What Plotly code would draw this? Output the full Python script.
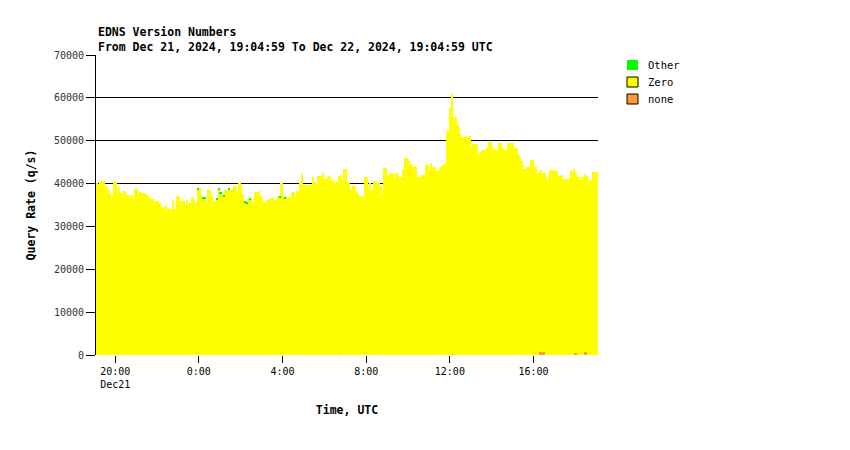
import pandas as pd
import plotly.graph_objects as go

# ---- data (5-minute bins starting Dec 21 2024 19:05 UTC) ----
start_time = "2024-12-21 19:05:00"
n_bins = 288
zero_rate = [
    40060, 39900, 40300, 40500, 40500, 39400, 39400, 38500, 37200, 37300, 40400, 40400,
    38000, 39200, 37700, 37700, 38200, 37300, 37200, 36900, 37300, 36300, 38700, 38700,
    37300, 38000, 37800, 37800, 37600, 37300, 36700, 36400, 36400, 35900, 35900, 35900,
    35300, 34500, 34300, 34500, 34800, 34100, 34100, 33700, 36200, 33900, 37100, 37100,
    35700, 35900, 35900, 34800, 36200, 35500, 35500, 36600, 35800, 35500, 38600, 38900,
    36800, 36500, 36500, 35800, 38500, 38500, 37000, 35600, 35800, 36300, 38600, 37600,
    37300, 37000, 38500, 38100, 38600, 37900, 38700, 39400, 39400, 37700, 40100, 39900,
    37600, 35600, 35200, 36400, 36100, 36400, 35500, 37900, 37900, 38100, 37000, 36700,
    35600, 35600, 36000, 36400, 36600, 36600, 36200, 36200, 37000, 36700, 40000, 36900,
    36500, 36800, 36800, 36800, 37900, 37900, 36800, 38200, 38200, 40100, 42100, 39600,
    39600, 39400, 39500, 39500, 41400, 40300, 40100, 41600, 41600, 41600, 42300, 41000,
    41000, 41600, 41400, 40500, 40500, 40100, 40400, 41700, 41700, 40500, 43400, 43400,
    40400, 40000, 38700, 39300, 39300, 38000, 37700, 37000, 37000, 36600, 41400, 41400,
    38700, 40000, 38500, 40400, 40400, 40400, 40000, 39400, 37600, 43600, 43600, 41900,
    41900, 42300, 42300, 41000, 42300, 41900, 41500, 41500, 43400, 46000, 46000, 45300,
    44400, 44200, 43800, 43800, 41400, 41400, 41400, 42000, 42000, 44300, 44300, 43200,
    44800, 43700, 43700, 42900, 42900, 43900, 43900, 44200, 44600, 52300, 52300, 57600,
    60500, 55500, 55500, 53700, 53000, 51300, 50700, 50900, 50900, 51100, 51100, 48800,
    49100, 49200, 49200, 46900, 47300, 47800, 47700, 47800, 48200, 49700, 49700, 48400,
    48000, 47800, 47800, 49500, 49500, 48200, 47700, 47700, 49500, 49500, 49300, 49300,
    48300, 48300, 46600, 45900, 45300, 43400, 43400, 43700, 43900, 45500, 45500, 43800,
    44100, 42500, 42000, 42500, 41800, 41800, 41300, 41100, 43200, 43200, 43000, 42900,
    42900, 41800, 41800, 42000, 40900, 40900, 40900, 41000, 42900, 42900, 42900, 42000,
    41500, 41500, 41100, 41500, 41700, 41100, 40100, 40800, 40800, 42700, 42700, 42700,
]
other_rate = [
    0, 0, 0, 0, 0, 0, 0, 0, 0, 0, 0, 0,
    0, 0, 0, 0, 0, 0, 0, 0, 0, 0, 0, 0,
    0, 0, 0, 0, 0, 0, 0, 0, 0, 0, 0, 0,
    0, 0, 0, 0, 0, 0, 0, 0, 0, 0, 0, 0,
    0, 0, 0, 0, 0, 0, 0, 0, 0, 0, 300, 0,
    0, 300, 300, 0, 0, 0, 0, 0, 0, 300, 300, 300,
    0, 300, 0, 0, 300, 0, 0, 0, 0, 0, 0, 0,
    0, 300, 300, 0, 300, 0, 0, 0, 0, 0, 0, 0,
    0, 0, 0, 0, 0, 0, 0, 0, 0, 300, 0, 0,
    300, 0, 0, 0, 0, 0, 0, 0, 0, 0, 0, 0,
    0, 0, 0, 0, 0, 0, 0, 0, 0, 0, 0, 0,
    0, 0, 0, 0, 0, 0, 0, 0, 0, 0, 0, 0,
    0, 0, 0, 0, 0, 0, 0, 0, 0, 0, 0, 0,
    0, 0, 0, 0, 0, 0, 0, 0, 0, 0, 0, 0,
    0, 0, 0, 0, 0, 0, 0, 0, 0, 0, 0, 0,
    0, 0, 0, 0, 0, 0, 0, 0, 0, 0, 0, 0,
    0, 0, 0, 0, 0, 0, 0, 0, 0, 0, 0, 0,
    0, 0, 0, 0, 0, 0, 0, 0, 0, 0, 0, 0,
    0, 0, 0, 0, 0, 0, 0, 0, 0, 0, 0, 0,
    0, 0, 0, 0, 0, 0, 0, 0, 0, 0, 0, 0,
    0, 0, 0, 0, 0, 0, 0, 0, 0, 0, 0, 0,
    0, 0, 0, 0, 0, 0, 0, 0, 0, 0, 0, 0,
    0, 0, 0, 0, 0, 0, 0, 0, 0, 0, 0, 0,
    0, 0, 0, 0, 0, 0, 0, 0, 0, 0, 0, 0,
]
none_rate = [
    80, 80, 80, 80, 80, 80, 80, 80, 80, 80, 80, 80,
    80, 80, 80, 80, 80, 80, 80, 80, 80, 80, 80, 80,
    80, 80, 80, 80, 80, 80, 80, 80, 80, 80, 80, 80,
    80, 80, 0, 0, 0, 80, 80, 80, 80, 80, 80, 80,
    80, 80, 80, 80, 80, 80, 80, 80, 80, 80, 80, 80,
    80, 80, 80, 80, 80, 80, 80, 80, 80, 80, 80, 80,
    80, 80, 80, 80, 80, 80, 80, 80, 80, 80, 80, 80,
    80, 80, 80, 80, 80, 80, 80, 80, 80, 80, 80, 80,
    80, 80, 80, 80, 80, 80, 80, 80, 80, 80, 80, 80,
    80, 80, 80, 80, 80, 80, 80, 80, 80, 80, 80, 80,
    80, 80, 80, 80, 80, 80, 80, 80, 80, 80, 80, 80,
    80, 80, 80, 80, 80, 80, 80, 80, 300, 80, 80, 80,
    80, 80, 80, 80, 80, 80, 80, 80, 80, 80, 80, 80,
    80, 80, 80, 250, 80, 80, 80, 80, 80, 80, 80, 80,
    80, 80, 80, 80, 80, 80, 80, 80, 80, 80, 80, 80,
    80, 80, 80, 80, 80, 80, 80, 80, 80, 80, 80, 80,
    80, 80, 80, 80, 80, 80, 80, 80, 80, 80, 80, 80,
    300, 80, 80, 80, 80, 80, 80, 80, 80, 80, 80, 80,
    80, 80, 80, 80, 80, 80, 80, 80, 80, 80, 80, 80,
    80, 80, 80, 80, 80, 80, 80, 80, 80, 80, 80, 80,
    80, 80, 80, 80, 80, 80, 80, 80, 80, 80, 80, 80,
    80, 80, 650, 650, 700, 600, 80, 80, 80, 80, 80, 80,
    80, 80, 80, 80, 80, 80, 80, 80, 80, 80, 500, 500,
    80, 80, 80, 80, 600, 600, 80, 80, 80, 80, 80, 80,
]
series_names = ["Other", "Zero", "none"]
series_colors = {"Other": "#00ff00", "Zero": "#ffff00", "none": "#ff9933"}

x_tick_vals = ["2024-12-21 20:00", "2024-12-22 00:00", "2024-12-22 04:00",
               "2024-12-22 08:00", "2024-12-22 12:00", "2024-12-22 16:00"]
x_tick_text = ["20:00<br>Dec21", "0:00", "4:00", "8:00", "12:00", "16:00"]
y_tick_vals = [0, 10000, 20000, 30000, 40000, 50000, 60000, 70000]
y_tick_text = ["0", "10000", "20000", "30000", "40000", "50000", "60000", "70000"]
x_range = ["2024-12-21 19:04:59", "2024-12-22 19:04:59"]

title_line1 = "EDNS Version Numbers"
title_line2 = "From Dec 21, 2024, 19:04:59 To Dec 22, 2024, 19:04:59 UTC"

# ---- figure ----
bin_starts = pd.date_range(start_time, periods=n_bins, freq="5min")
bin_centers = bin_starts + pd.Timedelta(minutes=2.5)
bin_width_ms = 5 * 60 * 1000

MONO = "DejaVu Sans Mono"
fig = go.Figure()
for name, vals in [("none", none_rate), ("Zero", zero_rate), ("Other", other_rate)]:
    fig.add_trace(go.Bar(
        x=bin_centers, y=vals, width=bin_width_ms, name=name,
        marker=dict(color=series_colors[name], line=dict(width=0)),
        showlegend=False,
    ))

fig.update_layout(
    width=850, height=450,
    margin=dict(l=96, r=252, t=55, b=95),
    paper_bgcolor="white", plot_bgcolor="white",
    barmode="stack", bargap=0,
    font=dict(family=MONO, size=10, color="black"),
    xaxis=dict(
        type="date", range=x_range,
        tickvals=x_tick_vals, ticktext=x_tick_text,
        ticks="outside", ticklen=7, tickcolor="black",
        showgrid=False, showline=False, zeroline=False,
        tickfont=dict(family=MONO, size=10),
        title=dict(text="<b>Time, UTC</b>", font=dict(family=MONO, size=11.5), standoff=16),
    ),
    yaxis=dict(
        range=[0, 70000], tickvals=y_tick_vals, ticktext=y_tick_text,
        ticks="outside", ticklen=9, tickcolor="black",
        showgrid=True, gridcolor="black", gridwidth=1,
        showline=True, linecolor="black", linewidth=1,
        zeroline=False,
        tickfont=dict(family=MONO, size=10, color="#333333"),
        title=dict(text="<b>Query Rate (q/s)</b>", font=dict(family=MONO, size=11.5), standoff=15),
    ),
)

# titles
fig.add_annotation(text="<b>" + title_line1 + "</b>", xref="paper", yref="paper",
                   x=0, y=(355 - 32) / 300, xanchor="left", yanchor="middle",
                   showarrow=False, font=dict(family=MONO, size=11.5))
fig.add_annotation(text="<b>" + title_line2 + "</b>", xref="paper", yref="paper",
                   x=0, y=(355 - 47) / 300, xanchor="left", yanchor="middle",
                   showarrow=False, font=dict(family=MONO, size=11.5))

# legend (manual, matches reference layout)
leg_rows = [("Other", 60, False), ("Zero", 77, True), ("none", 94, True)]
for name, top_px, border in leg_rows:
    fig.add_shape(type="rect", xref="paper", yref="paper",
                  x0=(627 - 96) / 502, x1=(638 - 96) / 502,
                  y0=(355 - (top_px + 10)) / 300, y1=(355 - top_px) / 300,
                  fillcolor=series_colors[name],
                  line=dict(color="black", width=1 if border else 0))
    fig.add_annotation(text=name, xref="paper", yref="paper",
                       x=(646 - 96) / 502, y=(355 - (top_px + 5)) / 300,
                       xanchor="left", yanchor="middle", showarrow=False,
                       font=dict(family=MONO, size=10.5))

fig.write_html("out.html")
